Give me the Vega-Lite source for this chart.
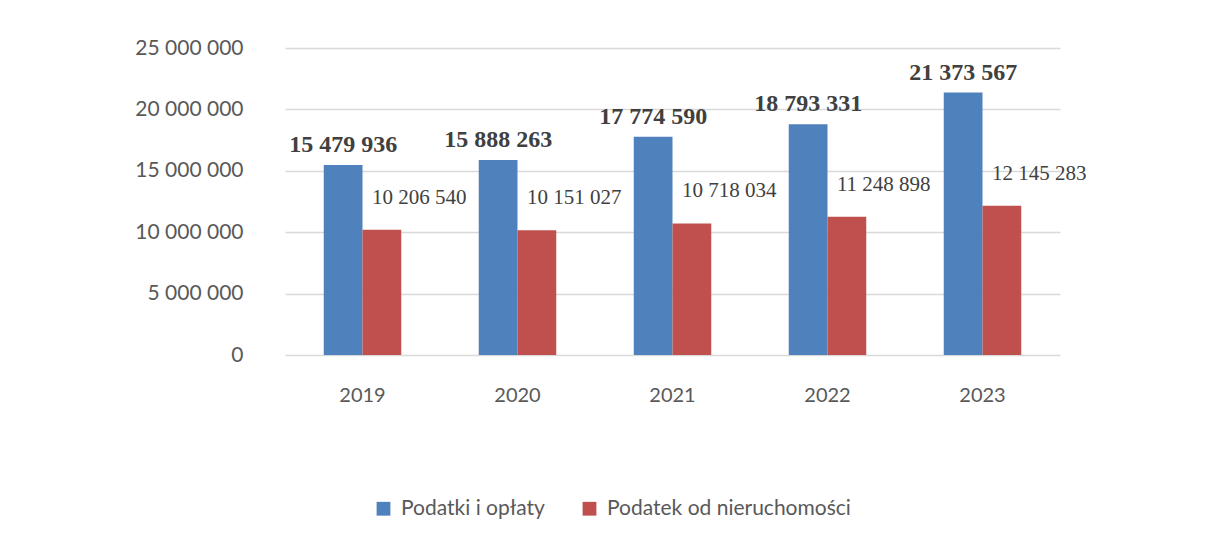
{
  "$schema": "https://vega.github.io/schema/vega-lite/v6.json",
  "width": 775,
  "height": 307,
  "autosize": {"type": "none"},
  "padding": {"left": 285, "top": 48, "right": 148, "bottom": 188},
  "background": "white",
  "config": {
    "locale": {"number": {"decimal": ",", "thousands": " ", "grouping": [3], "currency": ["", ""]}},
    "view": {"stroke": null},
    "font": "Lato"
  },
  "data": {
    "values": [
      {"year": "2019", "series": "Podatki i opłaty", "value": 15479936},
      {"year": "2019", "series": "Podatek od nieruchomości", "value": 10206540},
      {"year": "2020", "series": "Podatki i opłaty", "value": 15888263},
      {"year": "2020", "series": "Podatek od nieruchomości", "value": 10151027},
      {"year": "2021", "series": "Podatki i opłaty", "value": 17774590},
      {"year": "2021", "series": "Podatek od nieruchomości", "value": 10718034},
      {"year": "2022", "series": "Podatki i opłaty", "value": 18793331},
      {"year": "2022", "series": "Podatek od nieruchomości", "value": 11248898},
      {"year": "2023", "series": "Podatki i opłaty", "value": 21373567},
      {"year": "2023", "series": "Podatek od nieruchomości", "value": 12145283}
    ]
  },
  "encoding": {
    "x": {
      "field": "year", "type": "nominal", "title": null,
      "scale": {"paddingInner": 0.5, "paddingOuter": 0.25},
      "axis": {"labelAngle": 0, "domain": false, "ticks": false, "labelPadding": 30, "labelFontSize": 20, "labelColor": "#595959", "labelFont": "Lato"}
    },
    "xOffset": {"field": "series", "type": "nominal", "sort": ["Podatki i opłaty", "Podatek od nieruchomości"]},
    "y": {
      "field": "value", "type": "quantitative", "title": null,
      "scale": {"domain": [0, 25000000]},
      "axis": {"values": [0, 5000000, 10000000, 15000000, 20000000, 25000000], "format": ",d", "domain": false, "ticks": false, "labelPadding": 42, "labelFontSize": 21, "labelColor": "#595959", "labelFont": "Lato", "gridColor": "#d9d9d9", "gridWidth": 1.5}
    }
  },
  "layer": [
    {
      "mark": {"type": "bar"},
      "encoding": {
        "color": {
          "field": "series", "type": "nominal",
          "sort": ["Podatki i opłaty", "Podatek od nieruchomości"],
          "scale": {"domain": ["Podatki i opłaty", "Podatek od nieruchomości"], "range": ["#4F81BD", "#C0504D"]},
          "legend": {"title": null, "orient": "none", "direction": "horizontal", "legendX": 88, "legendY": 450, "symbolType": "square", "symbolSize": 190, "symbolStrokeWidth": 0, "labelFontSize": 21, "labelColor": "#595959", "labelFont": "Lato", "labelLimit": 0, "columnPadding": 34, "labelOffset": 7}
        }
      }
    },
    {
      "transform": [{"filter": "datum.series === 'Podatki i opłaty'"}],
      "mark": {"type": "text", "font": "Liberation Serif", "fontWeight": "bold", "fontSize": 24, "color": "#404040", "baseline": "bottom", "dy": -8},
      "encoding": {"text": {"field": "value", "type": "quantitative", "format": ",d"}}
    },
    {
      "transform": [{"filter": "datum.series === 'Podatek od nieruchomości'"}],
      "mark": {"type": "text", "font": "Liberation Serif", "fontSize": 21, "color": "#404040", "baseline": "bottom", "align": "left", "dx": -10, "dy": -22},
      "encoding": {"text": {"field": "value", "type": "quantitative", "format": ",d"}}
    }
  ]
}
